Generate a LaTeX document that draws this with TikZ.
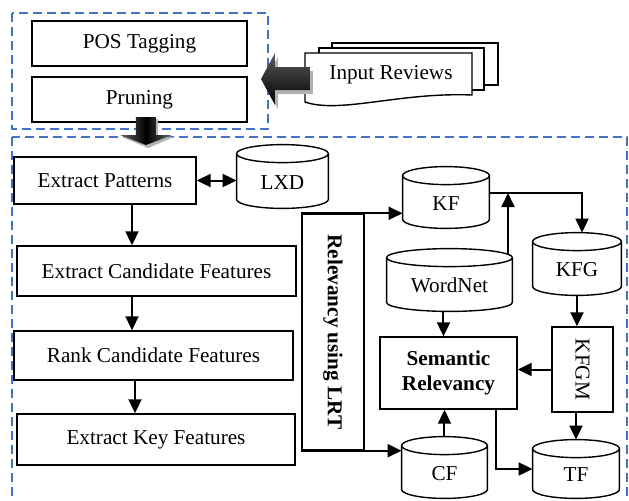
\documentclass[tikz,border=0pt]{standalone}
\usepackage{fontspec}
\setmainfont{Liberation Serif}
\usetikzlibrary{shapes.geometric,arrows.meta,calc,positioning}

\definecolor{grpblue}{RGB}{68,114,196}

\tikzset{
  box/.style={draw, line width=0.7pt, fill=white, inner sep=2pt, align=center},
  db/.style={inner sep=0pt, text height=12.5pt, text depth=0pt},
  arr/.style={-{Triangle[length=7pt,width=6.5pt]}, line width=1pt},
  grp/.style={draw=grpblue, line width=1pt, dash pattern=on 4.5pt off 2.5pt},
  page/.style={draw, line width=0.7pt, fill=white},
}

% cylinder outline round a named node
\newcommand{\drum}[1]{%
  \draw[line width=0.7pt] let \p1=(#1.west), \p2=(#1.east), \n1={(\x2-\x1)/2} in
    ($(#1.north west)+(0,9)$) -- ($(#1.south west)+(0,-9)$)
    arc[start angle=180, end angle=360, x radius=\n1, y radius=4.5pt]
    -- ($(#1.north east)+(0,9)$)
    arc[start angle=0, end angle=360, x radius=\n1, y radius=4.5pt];
}

\begin{document}
\fontsize{10.6}{12.5}\selectfont
\begin{tikzpicture}[x=0.5pt,y=-0.5pt]
      \useasboundingbox (0,0) rectangle (629,500);
      \clip (0,0) rectangle (629,500);

      % groups
      \draw[grp] (12,13) rectangle (268,129);
      \draw[grp] (12,137) rectangle (627,520);

      % preprocessing
      \node[box, minimum width=107.5pt, minimum height=22.5pt] (pos) at (139.5,43.5) {POS Tagging};
      \node[box, minimum width=107.5pt, minimum height=22.5pt] (prune) at (139.5,99.5) {Pruning};

      % input documents
      \draw[page] (332,43) rectangle (498,85);
      \draw[page] (319,48) rectangle (484,90);
      \draw[page] (305,53) -- (472,53) -- (472,95) .. controls (400,92) and (340,114) .. (305,102) -- cycle;
      \node (rev) at (391,75) {Input Reviews};

      % block arrows
      \fill[gray!60] (264,83) -- (278,57) -- (278,71) -- (313,71) -- (313,94) -- (278,94) -- (278,109) -- cycle;
      \shade[top color=gray!70!black, bottom color=black] (261,79) -- (275,53) -- (275,67) -- (310,67) -- (310,90) -- (275,90) -- (275,105) -- cycle;
      \fill[gray!60] (138,119) -- (158,119) -- (158,137) -- (174,137) -- (148,148) -- (122,137) -- (138,137) -- cycle;
      \shade[left color=gray!80!black, right color=gray!80!black, middle color=black] (136,117) -- (156,117) -- (156,135) -- (172,135) -- (146,145) -- (120,135) -- (136,135) -- cycle;

      % left column
      \node[box, minimum width=91pt, minimum height=23.5pt] (pat) at (105,180.5) {Extract Patterns};
      \node[box, minimum width=139.5pt, minimum height=25pt] (cand) at (156.5,271) {Extract Candidate Features};
      \node[box, minimum width=139.5pt, minimum height=24.5pt] (rank) at (153.5,355.5) {Rank Candidate Features};
      \node[box, minimum width=139pt, minimum height=25.5pt] (key) at (156,439.5) {Extract Key Features};

      % stores
      \node[db, minimum width=45.5pt, minimum height=31.5pt] (lxd) at (282.5,176.5) {LXD};
      \node[db, minimum width=43pt, minimum height=30.5pt] (kf) at (446,197.5) {KF};
      \node[db, minimum width=44pt, minimum height=31pt] (kfg) at (577,264) {KFG};
      \node[db, minimum width=62.5pt, minimum height=31pt] (wn) at (449.5,280) {WordNet};
      \node[db, minimum width=42.5pt, minimum height=30.5pt] (cf) at (444.5,467.5) {CF};
      \node[db, minimum width=43pt, minimum height=29pt] (tf) at (576,469) {TF};
      \foreach \s in {lxd,kf,kfg,wn,cf,tf} {\drum{\s}}

      % relevancy
      \node[box, minimum width=31pt, minimum height=118pt,
            label={[rotate=-90,font=\bfseries]center:Relevancy using LRT}] (lrt) at (333,332) {};
      \node[box, font=\bfseries, minimum width=68.5pt, minimum height=36pt] (sem) at (448.5,373) {Semantic\\Relevancy};
      \node[box, minimum width=30.5pt, minimum height=42.5pt,
            label={[rotate=-90]center:KFGM}] (kfgm) at (582.5,369.5) {};

      % connectors
      \draw[{Triangle[length=7pt,width=6.5pt]}-{Triangle[length=7pt,width=6.5pt]}, line width=1pt] (pat.east) -- (pat.east -| lxd.west);
      \draw[arr] ($(pat.south)+(27,0)$) -- ($(cand.north)+(-24.5,0)$);
      \draw[arr] ($(cand.south)+(-24.5,0)$) -- ($(rank.north)+(-21.5,0)$);
      \draw[arr] ($(rank.south)+(-18.5,0)$) -- ($(key.north)+(-21,0)$);
      \draw[arr] (lrt.north west) -- (lrt.north west -| kf.west);
      \draw[arr] (lrt.south west) -- (lrt.south west -| cf.west);
      \coordinate (j) at (508,193);
      \draw[arr] ($(j |- wn.north)+(0,6)$) -- (j);
      \draw[arr] (kf.east |- j) -| ($(kfg.north)+(5,0)$);
      \draw[arr] (kfg.south) -- (kfg.south |- kfgm.north);
      \draw[arr] (kfgm.south -| tf.north) -- (tf.north);
      \draw[arr] ($(wn.south)+(-6,0)$) -- ($(wn.south |- sem.north)+(-6,0)$);
      \draw[arr] (cf.north) -- (cf.north |- sem.south);
      \draw[arr] (kfgm.west) -- (kfgm.west -| sem.east);
      \draw[arr] ($(sem.south east)+(-22,0)$) |- (tf.west);
\end{tikzpicture}
\end{document}
